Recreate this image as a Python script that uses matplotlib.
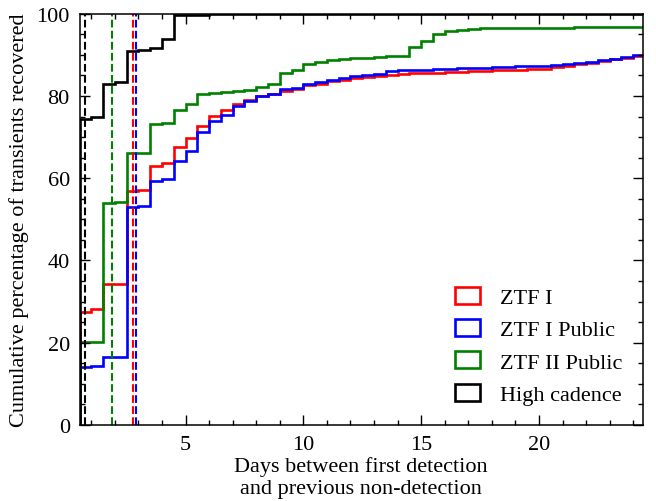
import numpy as np
import matplotlib
matplotlib.use("Agg")
import matplotlib.pyplot as plt
from matplotlib.patches import Patch
from matplotlib.ticker import MultipleLocator

# cumulative fraction of transients (%) per 0.5-day bin, bins start at 0.5 d
bin_edges = np.arange(0.5, 24.75, 0.5)

ztf1 = [27.4, 28.2, 34.3, 34.4, 57.0, 57.1, 62.9, 63.6, 67.5, 69.7, 72.8, 75.1,
        76.7, 78.1, 79.1, 80.1, 80.5, 81.2, 81.6, 82.6, 83.0, 83.6, 83.9, 84.4,
        84.6, 84.8, 85.2, 85.4, 85.5, 85.6, 85.7, 85.8, 85.9, 86.0, 86.1, 86.2,
        86.3, 86.4, 86.5, 86.6, 87.0, 87.4, 87.8, 88.1, 88.5, 88.9, 89.3, 89.7]

ztf1_public = [14.0, 14.4, 16.5, 16.6, 53.0, 53.2, 59.4, 59.9, 64.2, 66.7, 71.2, 73.9,
               75.3, 77.5, 78.7, 80.0, 80.5, 81.6, 82.0, 83.0, 83.4, 83.9, 84.4, 84.8,
               85.2, 85.4, 86.0, 86.2, 86.3, 86.4, 86.5, 86.6, 86.7, 86.8, 86.9, 87.0,
               87.1, 87.2, 87.3, 87.4, 87.6, 87.8, 88.0, 88.2, 88.7, 89.1, 89.5, 89.9]

ztf2_public = [20.1, 20.3, 54.0, 54.1, 66.1, 66.2, 73.2, 73.5, 76.5, 78.1, 80.5, 80.8,
               81.0, 81.2, 81.5, 82.2, 83.0, 85.6, 86.2, 87.7, 88.2, 88.8, 89.1, 89.2,
               89.3, 89.5, 89.7, 89.8, 91.9, 93.3, 95.1, 95.8, 96.1, 96.4, 96.5, 96.6,
               96.6, 96.6, 96.6, 96.6, 96.6, 96.6, 96.7, 96.7, 96.7, 96.7, 96.7, 96.7]

high_cadence = [74.3, 74.8, 83.0, 83.3, 91.0, 91.2, 91.7, 93.8, 99.6, 99.7, 99.8, 99.9,
                100, 100, 100, 100, 100, 100, 100, 100, 100, 100, 100, 100,
                100, 100, 100, 100, 100, 100, 100, 100, 100, 100, 100, 100,
                100, 100, 100, 100, 100, 100, 100, 100, 100, 100, 100, 100]

# median gap (days) for each sample
medians = {"ZTF I": 2.78, "ZTF I Public": 2.88, "ZTF II Public": 1.90, "High cadence": 0.73}

labels = ["ZTF I", "ZTF I Public", "ZTF II Public", "High cadence"]
series = [ztf1, ztf1_public, ztf2_public, high_cadence]
colors = ["#ff0000", "#0000ff", "#008000", "#000000"]

plt.rcParams["font.family"] = ["Liberation Serif", "DejaVu Serif"]

fig = plt.figure(figsize=(6.56, 5.02), dpi=100)
ax = fig.add_axes([0.1212, 0.1514, 0.8585, 0.8193])

for lab, vals, c in zip(labels, series, colors):
    ax.stairs(vals, bin_edges, baseline=0, color=c, linewidth=1.9)

for lab, c in zip(labels, colors):
    ax.axvline(medians[lab], color=c, linestyle="--", linewidth=1.5)

ax.set_xlim(0.5, 24.4)
ax.set_ylim(0, 100)
ax.xaxis.set_major_locator(MultipleLocator(5))
ax.xaxis.set_minor_locator(MultipleLocator(1))
ax.yaxis.set_major_locator(MultipleLocator(20))
ax.yaxis.set_minor_locator(MultipleLocator(5))
ax.tick_params(which="both", direction="in", top=True, right=True, labelsize=16)
ax.tick_params(which="major", length=7, width=1, pad=7)
ax.tick_params(which="minor", length=3.5, width=1)
for s in ax.spines.values():
    s.set_linewidth(1.1)

ax.set_xlabel("Days between first detection\nand previous non-detection", fontsize=16,
              linespacing=1.15, labelpad=2)
ax.set_ylabel("Cumulative percentage of transients recovered", fontsize=16, labelpad=5)

handles = [Patch(facecolor="none", edgecolor=c, linewidth=1.9, label=lab)
           for lab, c in zip(labels, colors)]
ax.legend(handles=handles, loc="lower right", frameon=False, fontsize=16,
          handlelength=1.15, handleheight=0.8, handletextpad=0.9,
          labelspacing=0.5, borderaxespad=0.5)

fig.savefig("out.png", dpi=100)
